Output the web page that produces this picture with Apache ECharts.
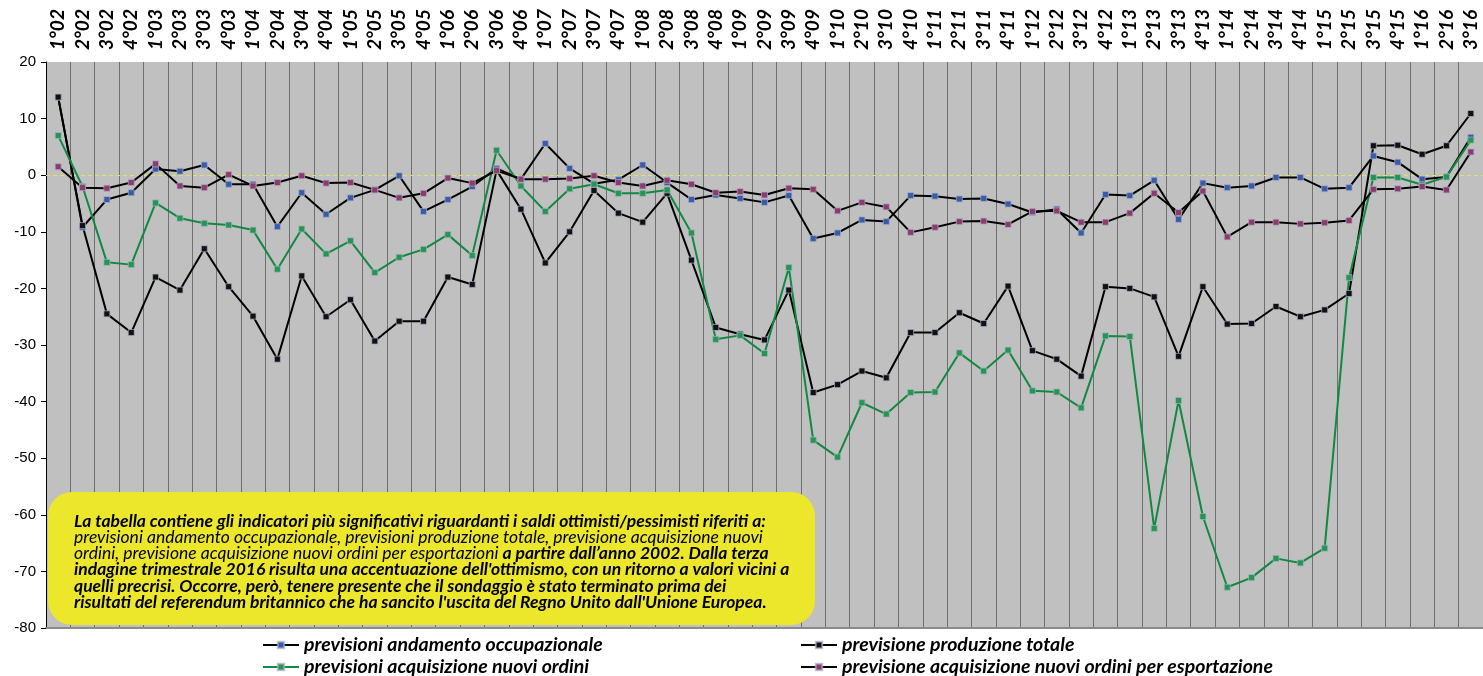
<!DOCTYPE html>
<html>
<head>
<meta charset="utf-8">
<script src="https://cdn.jsdelivr.net/npm/echarts@6/dist/echarts.min.js"></script>
<style>
  html, body { margin: 0; padding: 0; background: #fff; }
  #main { width: 1483px; height: 676px; }
</style>
</head>
<body>
<div id="main"></div>
<script>
// trimestri 2002 - 2016
var categorie = ['1°02','2°02','3°02','4°02','1°03','2°03','3°03','4°03','1°04','2°04','3°04','4°04',
    '1°05','2°05','3°05','4°05','1°06','2°06','3°06','4°06','1°07','2°07','3°07','4°07',
    '1°08','2°08','3°08','4°08','1°09','2°09','3°09','4°09','1°10','2°10','3°10','4°10',
    '1°11','2°11','3°11','4°11','1°12','2°12','3°12','4°12','1°13','2°13','3°13','4°13',
    '1°14','2°14','3°14','4°14','1°15','2°15','3°15','4°15','1°16','2°16','3°16'];

var occupazionale = [13.8, -9.2, -4.3, -3.1, 1.1, 0.7, 1.8, -1.6, -1.6, -9.1,
    -3.1, -6.9, -4.0, -2.6, -0.1, -6.4, -4.3, -2.0, 1.2, -0.7,
    5.6, 1.2, -1.5, -0.8, 1.8, -1.3, -4.3, -3.5, -4.1, -4.8,
    -3.6, -11.2, -10.2, -7.9, -8.2, -3.6, -3.7, -4.2, -4.1, -5.1,
    -6.6, -6.0, -10.2, -3.4, -3.6, -0.9, -7.8, -1.4, -2.2, -1.9,
    -0.4, -0.4, -2.4, -2.2, 3.4, 2.3, -0.7, -0.3, 6.7];

var produzione = [13.8, -8.9, -24.5, -27.8, -18.0, -20.3, -13.0, -19.7, -24.9, -32.5,
    -17.8, -25.0, -22.0, -29.3, -25.8, -25.8, -18.0, -19.3, 0.9, -6.0,
    -15.5, -10.0, -2.7, -6.7, -8.3, -3.2, -15.0, -26.9, -28.1, -29.1,
    -20.3, -38.4, -37.0, -34.6, -35.8, -27.8, -27.8, -24.3, -26.2, -19.6,
    -31.0, -32.5, -35.5, -19.7, -20.0, -21.5, -32.0, -19.7, -26.3, -26.2,
    -23.2, -25.0, -23.8, -20.9, 5.2, 5.3, 3.7, 5.2, 10.9];

var nuoviOrdini = [7.0, -2.0, -15.4, -15.8, -4.9, -7.6, -8.5, -8.8, -9.7, -16.6,
    -9.5, -13.9, -11.6, -17.2, -14.5, -13.1, -10.5, -14.2, 4.4, -1.9,
    -6.4, -2.4, -1.6, -3.2, -3.2, -2.6, -10.2, -29.0, -28.3, -31.5,
    -16.3, -46.8, -49.8, -40.2, -42.2, -38.4, -38.3, -31.4, -34.6, -30.9,
    -38.1, -38.3, -41.1, -28.4, -28.5, -62.4, -39.8, -60.3, -72.8, -71.1,
    -67.7, -68.5, -65.9, -18.1, -0.4, -0.4, -1.7, -0.3, 6.2];

var esportazione = [1.5, -2.2, -2.3, -1.3, 2.0, -1.9, -2.2, 0.1, -1.9, -1.3,
    -0.1, -1.4, -1.3, -2.6, -4.0, -3.2, -0.5, -1.4, 0.8, -0.7,
    -0.7, -0.6, -0.1, -1.3, -1.9, -0.9, -1.6, -3.1, -2.9, -3.5,
    -2.3, -2.5, -6.3, -4.8, -5.6, -10.1, -9.2, -8.2, -8.1, -8.7,
    -6.4, -6.3, -8.3, -8.3, -6.7, -3.2, -6.6, -2.8, -10.9, -8.3,
    -8.3, -8.6, -8.4, -8.0, -2.5, -2.4, -2.0, -2.6, 4.1];

var yTicks = [-80, 20, 10];   // min, max, passo

var myChart = echarts.init(document.getElementById('main'));

var legendText = {
    fontFamily: 'Lato', fontStyle: 'italic', fontWeight: 'bold', fontSize: 19.5, color: '#000'
};

function serie(nome, dati, lineColor, markColor) {
    return {
        name: nome,
        type: 'line',
        data: dati,
        symbol: 'rect',
        symbolSize: 6,
        lineStyle: { color: lineColor, width: 2 },
        itemStyle: { color: markColor, borderColor: 'rgba(170,175,200,0.7)', borderWidth: 1 },
        emphasis: { disabled: true },
        animation: false
    };
}

// una legenda per ogni voce, due colonne su due righe
function voce(nome, x, y) {
    return {
        left: x, top: y, padding: 0,
        itemWidth: 36, itemHeight: 8, itemGap: 4,
        textStyle: legendText,
        data: [nome]
    };
}

var s1 = serie('previsioni andamento occupazionale', occupazionale, '#000', '#3a5ca8');
var s2 = serie('previsione produzione totale', produzione, '#000', '#111');
var s3 = serie('previsioni acquisizione nuovi ordini', nuoviOrdini, '#138843', '#23974f');
var s4 = serie('previsione acquisizione nuovi ordini per esportazione', esportazione, '#000', '#8e3a6c');

// linea tratteggiata sullo zero
s1.markLine = {
    silent: true,
    symbol: 'none',
    z: 1,
    label: { show: false },
    lineStyle: { color: '#e2e25e', type: [4, 3], width: 1 },
    data: [{ yAxis: 0 }]
};

var option = {
    backgroundColor: '#fff',
    animation: false,
    grid: {
        left: 46, right: 0, top: 62, bottom: 48,
        show: true, backgroundColor: '#c0c0c0', borderWidth: 0
    },
    legend: [
        voce(s1.name, 262, 635),
        voce(s3.name, 262, 657),
        voce(s2.name, 800, 635),
        voce(s4.name, 800, 657)
    ],
    xAxis: [{
        type: 'category',
        position: 'top',
        data: categorie,
        boundaryGap: true,
        axisLine: { show: false },
        axisTick: { show: false },
        axisLabel: {
            rotate: 90, interval: 0, margin: 12,
            fontFamily: 'Lato', fontStyle: 'italic', fontWeight: 'bold', fontSize: 19, color: '#000'
        },
        splitLine: { show: true, interval: 0, lineStyle: { color: '#6f6f6f', width: 1 } }
    }, {
        type: 'category',
        position: 'bottom',
        data: categorie,
        axisLine: { show: true, lineStyle: { color: '#8a8a8a', width: 2 } },
        axisTick: { show: false },
        axisLabel: { show: false }
    }],
    yAxis: {
        type: 'value',
        min: yTicks[0], max: yTicks[1], interval: yTicks[2],
        axisLine: { show: true, lineStyle: { color: '#000', width: 1 } },
        axisTick: { show: true, length: 5, lineStyle: { color: '#000' } },
        axisLabel: { margin: 10, fontFamily: 'Liberation Sans', fontSize: 15, color: '#000' },
        splitLine: { show: false }
    },
    graphic: [{
        type: 'rect',
        z: 100,
        shape: { x: 48, y: 492, width: 767, height: 133, r: 24 },
        style: { fill: '#ece72b' }
    }, {
        type: 'text',
        z: 101,
        x: 74, y: 513,
        style: {
            text: '{b|La tabella contiene gli indicatori più significativi riguardanti i saldi ottimisti/pessimisti riferiti a:}\n' +
                  '{n|previsioni andamento occupazionale, previsioni produzione totale, previsione acquisizione nuovi}\n' +
                  '{n|ordini, previsione acquisizione nuovi ordini per esportazioni }{b|a partire dall’anno 2002. Dalla terza}\n' +
                  '{b|indagine trimestrale 2016 risulta una accentuazione dell\'ottimismo, con un ritorno a valori vicini a}\n' +
                  '{b|quelli precrisi. Occorre, però, tenere presente che il sondaggio è stato terminato prima dei}\n' +
                  '{b|risultati del referendum britannico che ha sancito l\'uscita del Regno Unito dall\'Unione Europea.}',
            fill: '#000',
            rich: {
                b: { fontFamily: 'Lato', fontStyle: 'italic', fontWeight: 'bold', fontSize: 17.5, lineHeight: 16.2, fill: '#000' },
                n: { fontFamily: 'Lato', fontStyle: 'italic', fontWeight: 'normal', fontSize: 17.5, lineHeight: 16.2, fill: '#000' }
            }
        }
    }],
    series: [s1, s2, s3, s4]
};

myChart.setOption(option);
</script>
</body>
</html>
